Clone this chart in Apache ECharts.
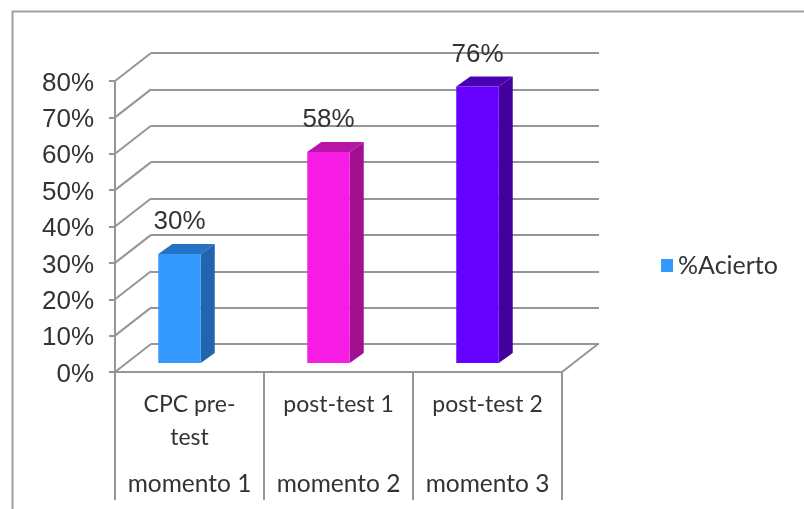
<!DOCTYPE html>
<html><head><meta charset="utf-8">
<style>html,body{margin:0;padding:0;background:#fff}#c{width:804px;height:509px}</style>
<script src="https://cdn.jsdelivr.net/npm/echarts@6/dist/echarts.min.js"></script>
</head><body><div id="c"></div>
<script>
const categories = ['CPC pre-\ntest', 'post-test 1', 'post-test 2'];
const moments = ['momento 1', 'momento 2', 'momento 3'];
const values = [30, 58, 76];
const ticks = [0, 10, 20, 30, 40, 50, 60, 70, 80];
const seriesName = '%Acierto';
const frontColors = ['#3399FF', '#F61CE4', '#6600FF'];
const sideColors = ['#2166AC', '#A0108F', '#42009E'];
const topColors = ['#2572C4', '#B814A8', '#4A00B5'];
const GRAY = '#969696', TEXT = '#333333';
const DX = 36, DY = 28;
const chart = echarts.init(document.getElementById('c'), null, {renderer: 'canvas'});
chart.setOption({
  animation: false,
  backgroundColor: '#fff',
  graphic: [
    {type: 'polyline', silent: true, shape: {points: [[12.5, 509], [12.5, 11.5], [804, 11.5]]}, style: {stroke: '#A0A0A0', lineWidth: 2, fill: null}}
  ],
  legend: {
    left: 656, top: 248, icon: 'rect', itemWidth: 12, itemHeight: 13, itemGap: 0,
    textStyle: {fontFamily: 'Lato', fontSize: 25, color: TEXT, padding: [12, 0, 0, 0]},
    data: [seriesName]
  },
  grid: [
    {left: 115, top: 81, width: 447, height: 291},
    {left: 151, top: 53, width: 448, height: 291}
  ],
  xAxis: [
    {type: 'category', gridIndex: 0, data: categories, position: 'bottom',
      axisLine: {lineStyle: {color: GRAY, width: 2}},
      axisTick: {show: true, length: 128, lineStyle: {color: GRAY, width: 2}},
      axisLabel: {fontFamily: 'Lato', fontSize: 23, color: TEXT, lineHeight: 33, margin: 16, interval: 0}},
    {type: 'category', gridIndex: 0, data: moments, position: 'bottom', offset: 97,
      axisLine: {show: false}, axisTick: {show: false},
      axisLabel: {fontFamily: 'Lato', fontSize: 24.5, color: TEXT, margin: 3, interval: 0}},
    {type: 'category', gridIndex: 1, data: categories, show: false}
  ],
  yAxis: [
    {type: 'value', gridIndex: 0, min: 0, max: 80, interval: 10,
      axisLine: {show: true, lineStyle: {color: GRAY, width: 2}},
      axisTick: {show: true, length: 6, lineStyle: {color: GRAY, width: 2}},
      splitLine: {show: false},
      axisLabel: {formatter: '{a|{value}%}', margin: 21,
        rich: {a: {fontFamily: 'Liberation Sans', fontSize: 26, color: TEXT, padding: [5, 0, 0, 0]}}}},
    {type: 'value', gridIndex: 1, min: 0, max: 80, interval: 10,
      axisLine: {show: false}, axisTick: {show: false}, axisLabel: {show: false},
      splitLine: {show: true, lineStyle: {color: GRAY, width: 2}}}
  ],
  series: [
    {
      type: 'custom', xAxisIndex: 0, yAxisIndex: 0, silent: true, z: 1,
      coordinateSystem: 'cartesian2d',
      encode: {x: 0, y: 1},
      data: ticks.map(t => [0, t]),
      clip: false,
      renderItem(params, api) {
        const cs = params.coordSys;
        const y = api.coord([0, api.value(1)])[1];
        const line = (x1, y1) => ({type: 'line', shape: {x1, y1, x2: x1 + DX, y2: y1 - DY},
          style: {stroke: GRAY, lineWidth: 2}});
        const children = [line(cs.x, y)];
        if (api.value(1) === 0) children.push(line(cs.x + cs.width, y));
        return {type: 'group', children};
      }
    },
    {
      name: seriesName, type: 'custom', xAxisIndex: 0, yAxisIndex: 0, silent: true, z: 3,
      coordinateSystem: 'cartesian2d',
      itemStyle: {color: frontColors[0]},
      encode: {x: 0, y: 1},
      data: values.map((v, i) => [i, v]),
      clip: false,
      renderItem(params, api) {
        const i = params.dataIndex;
        const c = api.coord([i, api.value(1)]);
        const base = api.coord([i, 0]);
        const w = api.size([1, 0])[0] * 0.285;
        const l = c[0] - 10 - w / 2, r = l + w;
        const t = c[1] - 9, b = base[1] - 9;
        const dx = 14, dy = 10;
        return {type: 'group', children: [
          {type: 'polygon', shape: {points: [[r, t], [r + dx, t - dy], [r + dx, b - dy], [r, b]]}, style: {fill: sideColors[i]}},
          {type: 'polygon', shape: {points: [[l, t], [l + dx, t - dy], [r + dx, t - dy], [r, t]]}, style: {fill: topColors[i]}},
          {type: 'rect', shape: {x: l, y: t, width: w, height: b - t}, style: {fill: frontColors[i]}},
          {type: 'text', style: {text: api.value(1) + '%', x: l + w / 2, y: t - 32, align: 'center', verticalAlign: 'middle',
            fontFamily: 'Liberation Sans', fontSize: 26, fill: TEXT}}
        ]};
      }
    }
  ]
});
</script></body></html>
